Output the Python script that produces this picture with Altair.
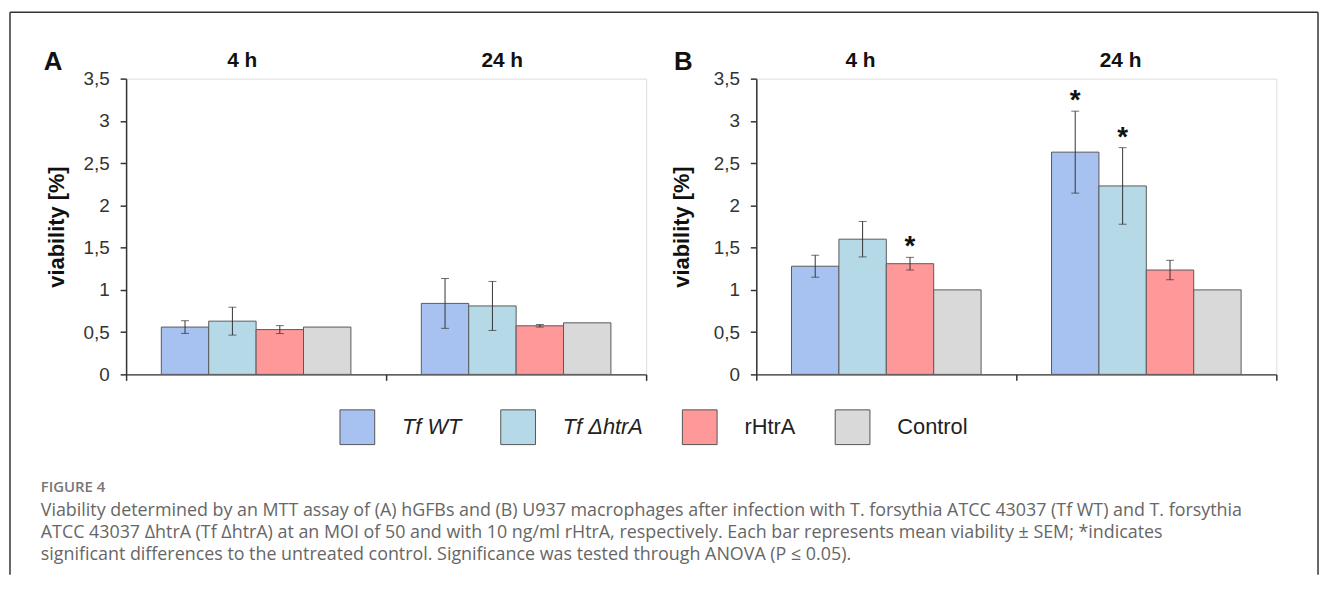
import altair as alt
import pandas as pd

# ---------------- data ----------------
series = ["Tf WT", "Tf ΔhtrA", "rHtrA", "Control"]
colors = ["#a7c1f0", "#b5d9e6", "#ff9999", "#d9d9d9"]
groups = ["4 h", "24 h"]

# Panel A: hGFBs  (mean viability, SEM; None = no error bar)
a_mean_4h = [0.56, 0.63, 0.53, 0.56]
a_sem_4h = [0.075, 0.165, 0.047, None]
a_mean_24h = [0.84, 0.81, 0.575, 0.61]
a_sem_24h = [0.295, 0.29, 0.015, None]
a_sig_4h = ["", "", "", ""]
a_sig_24h = ["", "", "", ""]

# Panel B: U937 macrophages
b_mean_4h = [1.28, 1.60, 1.31, 1.00]
b_sem_4h = [0.13, 0.21, 0.075, None]
b_mean_24h = [2.63, 2.23, 1.235, 1.00]
b_sem_24h = [0.485, 0.453, 0.115, None]
b_sig_4h = ["", "", "*", ""]
b_sig_24h = ["*", "*", "", ""]

y_ticks = [0, 0.5, 1, 1.5, 2, 2.5, 3, 3.5]
y_title = "viability [%]"

caption_head = "FIGURE 4"
caption_lines = [
    "Viability determined by an MTT assay of (A) hGFBs and (B) U937 macrophages after infection with T. forsythia ATCC 43037 (Tf WT) and T. forsythia",
    "ATCC 43037 ΔhtrA (Tf ΔhtrA) at an MOI of 50 and with 10 ng/ml rHtrA, respectively. Each bar represents mean viability ± SEM; *indicates",
    "significant differences to the untreated control. Significance was tested through ANOVA (P ≤ 0.05).",
]


def make_df(m4, s4, g4, m24, s24, g24):
    rows = []
    for grp, means, sems, sigs in (("4 h", m4, s4, g4), ("24 h", m24, s24, g24)):
        for s, m, e, g in zip(series, means, sems, sigs):
            rows.append({
                "group": grp, "series": s, "mean": m,
                "lo": None if e is None else m - e,
                "hi": None if e is None else m + e,
                "sig": g,
            })
    return pd.DataFrame(rows)


df_a = make_df(a_mean_4h, a_sem_4h, a_sig_4h, a_mean_24h, a_sem_24h, a_sig_24h)
df_b = make_df(b_mean_4h, b_sem_4h, b_sig_4h, b_mean_24h, b_sem_24h, b_sig_24h)

FONT = "Liberation Sans"
INK = "#333333"
W, H = 524, 298

legend = alt.Legend(
    title=None, orient="none", legendX=215, legendY=333, direction="horizontal",
    symbolType="square", symbolSize=1225, symbolStrokeColor="#555555",
    symbolStrokeWidth=1, symbolOpacity=1, labelFont=FONT, labelFontSize=22,
    labelColor="#222222", labelOffset=27, columnPadding=37, padding=0,
    labelFontStyle=alt.ExprRef(expr="indexof(datum.label, 'Tf') == 0 ? 'italic' : 'normal'"),
)

one = pd.DataFrame({"k": [0]})


def panel(df, letter, title_x, group_dx, extras):
    xaxis = alt.Axis(title=None, labels=False, ticks=True, tickExtra=True, bandPosition=1,
                     tickSize=6, tickColor=INK, tickWidth=1.5, domainColor=INK,
                     domainWidth=1.5, grid=False)
    yaxis = alt.Axis(values=y_ticks, labelExpr="replace(toString(datum.value), '.', ',')",
                     title=y_title, titleFont=FONT, titleFontSize=22, titleFontWeight="bold",
                     titleColor="#111111", titleX=title_x, titleY=H / 2, titleAngle=270,
                     titleAlign="center", titleBaseline="middle",
                     labelFont=FONT, labelFontSize=19, labelColor=INK, labelPadding=11,
                     tickSize=6, tickColor=INK, tickWidth=1.5, domainColor=INK,
                     domainWidth=1.5, grid=False)
    xenc = alt.X("group:N", sort=groups, scale=alt.Scale(paddingInner=0, paddingOuter=0),
                 axis=xaxis)
    xoff = alt.XOffset("series:N", sort=series,
                       scale=alt.Scale(paddingInner=0, paddingOuter=0.743))
    yscale = alt.Scale(domain=[0, 3.5], nice=False, zero=True)

    def yenc(field):
        return alt.Y(field, type="quantitative", scale=yscale, axis=yaxis)

    base = alt.Chart(df)
    bars = base.mark_bar(stroke="#5a5a5a", strokeWidth=1).encode(
        x=xenc, xOffset=xoff, y=yenc("mean"),
        color=alt.Color("series:N", scale=alt.Scale(domain=series, range=colors), legend=legend),
    )
    err = df.dropna(subset=["lo"])
    ebase = alt.Chart(err)
    rules = ebase.mark_rule(color=INK, strokeWidth=1).encode(
        x=xenc, xOffset=xoff, y=yenc("lo"), y2="hi:Q")
    cap_lo = ebase.mark_tick(color=INK, thickness=1, size=8).encode(
        x=xenc, xOffset=xoff, y=yenc("lo"))
    cap_hi = ebase.mark_tick(color=INK, thickness=1, size=8).encode(
        x=xenc, xOffset=xoff, y=yenc("hi"))
    stars = alt.Chart(df[df["sig"] != ""]).mark_text(
        font=FONT, fontSize=28, fontWeight="bold", color="#111111",
        baseline="alphabetic", align="center", dy=-2,
    ).encode(x=xenc, xOffset=xoff, y=yenc("hi"), text="sig:N")
    glabels = alt.Chart(pd.DataFrame({"group": groups})).mark_text(
        font=FONT, fontSize=21, fontWeight="bold", color="#111111",
        baseline="alphabetic", align="center", dx=group_dx,
    ).encode(x=xenc, y=alt.value(-12), text="group:N")
    plabel = alt.Chart(one).mark_text(
        text=letter, font=FONT, fontSize=26, fontWeight="bold", color="#111111",
        align="left", baseline="alphabetic",
    ).encode(x=alt.value(-83), y=alt.value(-9))
    layers = [bars, rules, cap_lo, cap_hi, stars, glabels, plabel] + extras
    return alt.layer(*layers).properties(width=W, height=H)


# frame and caption (placed relative to panel A's plot area)
FR = "#333333"
frame = [
    alt.Chart(one).mark_rule(color=FR, strokeWidth=1.5).encode(
        x=alt.value(-117), y=alt.value(-67), y2=alt.value(500)),
    alt.Chart(one).mark_rule(color=FR, strokeWidth=1.5).encode(
        x=alt.value(-117), x2=alt.value(1201), y=alt.value(-67)),
    alt.Chart(one).mark_rule(color=FR, strokeWidth=1.5).encode(
        x=alt.value(1201), y=alt.value(-67), y2=alt.value(500)),
]
cap = [
    alt.Chart(one).mark_text(
        text=caption_head, font="Open Sans", fontSize=15, fontWeight=600, color="#777777",
        align="left", baseline="alphabetic",
    ).encode(x=alt.value(-86), y=alt.value(417))
]
for i, line in enumerate(caption_lines):
    cap.append(alt.Chart(one).mark_text(
        text=line, font="Open Sans", fontSize=18, color="#666666",
        align="left", baseline="alphabetic",
    ).encode(x=alt.value(-86), y=alt.value(440.7 + 22 * i)))

pA = panel(df_a, "A", -70, -14, frame + cap)
pB = panel(df_b, "B", -75, -26, [])

chart = alt.hconcat(pA, pB, spacing=111, bounds="flush").resolve_scale(
    color="shared", x="independent", y="independent"
).properties(
    padding={"left": 0, "top": 0, "right": 0, "bottom": 0}
).configure_view(stroke=None).configure(font=FONT, background="white")

chart.save("out.html", embed_options={"renderer": "svg", "actions": False})
